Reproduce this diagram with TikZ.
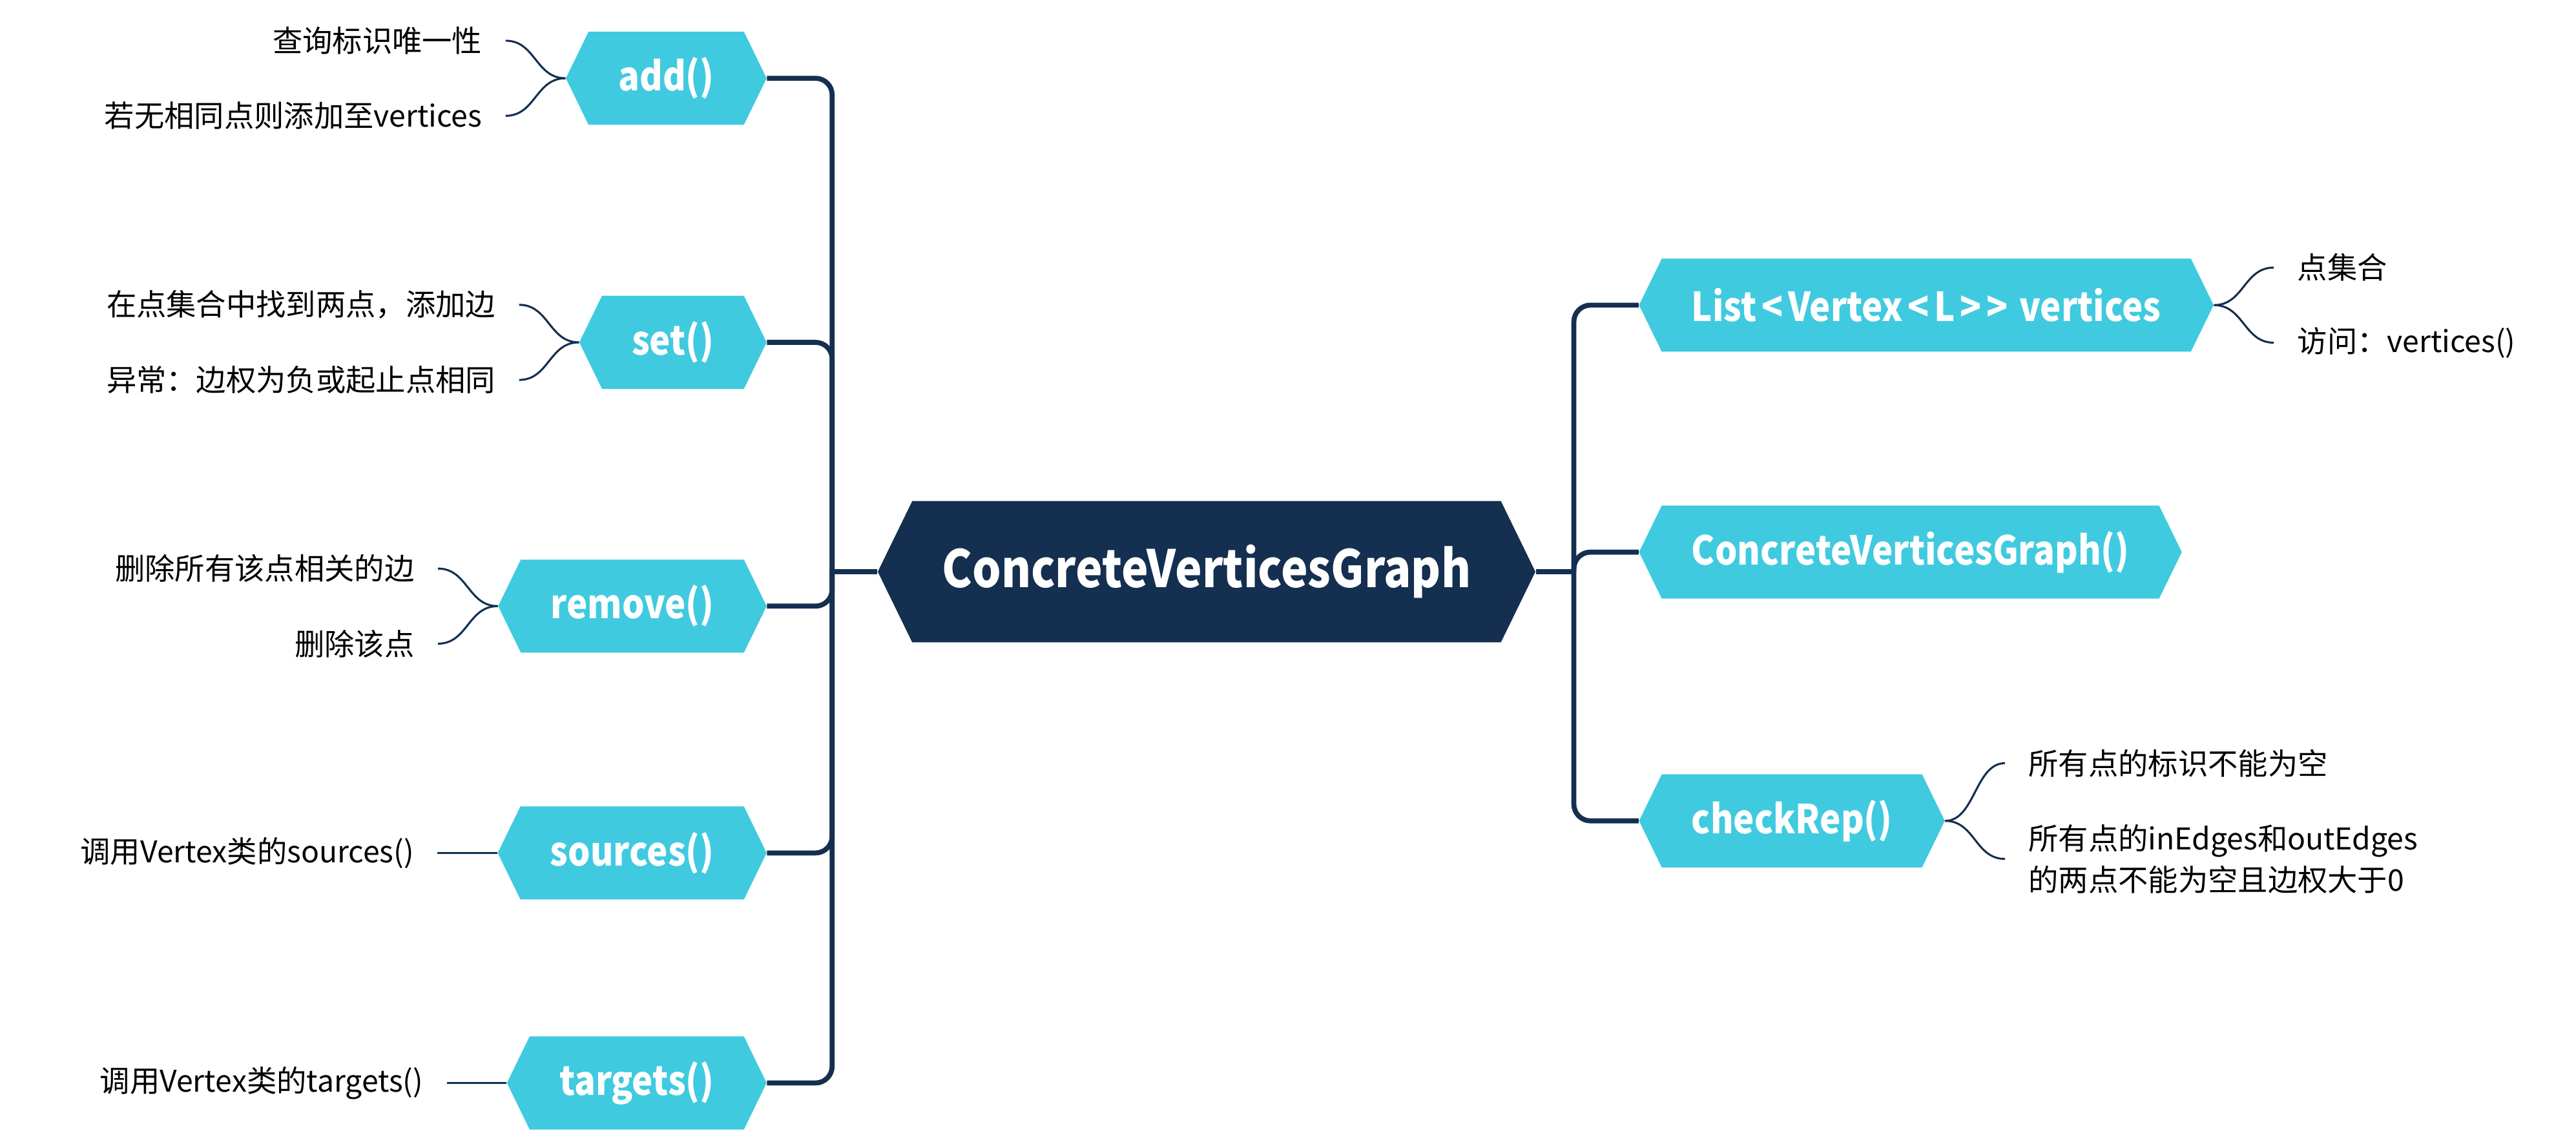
\documentclass[tikz,border=0pt]{standalone}
\usepackage{fontspec}
\setmainfont{Noto Sans CJK SC}
\newfontfamily\labelfont[FakeStretch=0.88]{Noto Sans CJK SC}
\usetikzlibrary{positioning, shapes.symbols}
\definecolor{deepnavy}{HTML}{142F50}
\definecolor{skycyan}{HTML}{40CAE0}
\tikzstyle{rootnode} = [signal, signal to=east and west, signal pointer angle=128, fill=deepnavy, text=white, font=\labelfont\bfseries\fontsize{31}{31}\selectfont, minimum height=85pt, inner xsep=18pt]
\tikzstyle{method} = [signal, signal to=east and west, signal pointer angle=128, fill=skycyan, text=white, font=\labelfont\bfseries\fontsize{24}{24}\selectfont, minimum height=56pt, inner xsep=18pt]
\tikzstyle{leaf} = [font=\fontsize{18}{25}\selectfont, inner xsep=14pt, inner ysep=2pt]
\tikzstyle{trunk} = [draw=deepnavy, line width=3pt, rounded corners=10pt]
\tikzstyle{twig} = [draw=deepnavy, line width=1.2pt]

\begin{document}
\begin{tikzpicture}[x=1pt, y=1pt, node distance=36pt]
\useasboundingbox (0,0) rectangle (1550,688);
\node (root) [rootnode] at (726,344) {ConcreteVerticesGraph};
\node (add) [method, anchor=east] at (461.5,640.9) {add()};
\node (set) [method, anchor=east] at (461.5,482) {set()};
\node (remove) [method, anchor=east] at (461.5,323.3) {remove()};
\node (sources) [method, anchor=east] at (461.5,174.8) {sources()};
\node (targets) [method, anchor=east] at (461.5,36.4) {targets()};
\node (vertices) [method, anchor=west] at (986,504.4) {List\kern3pt<\kern3pt Vertex\kern3pt<\kern3pt L\kern3pt>\kern3pt>\kern2pt{} vertices};
\node (ctor) [method, anchor=west] at (986,355.8) {ConcreteVerticesGraph()};
\node (rep) [method, anchor=west] at (986,194.1) {checkRep()};

\node (add1) [leaf, left=of add.west, yshift=22.6pt] {查询标识唯一性};
\node (add2) [leaf, left=of add.west, yshift=-22.6pt] {若无相同点则添加至vertices};
\node (set1) [leaf, left=of set.west, yshift=22.6pt] {在点集合中找到两点，添加边};
\node (set2) [leaf, left=of set.west, yshift=-22.6pt] {异常：边权为负或起止点相同};
\node (remove1) [leaf, left=of remove.west, yshift=22.6pt] {删除所有该点相关的边};
\node (remove2) [leaf, left=of remove.west, yshift=-22.6pt] {删除该点};
\node (sources1) [leaf, left=of sources.west] {调用Vertex类的sources()};
\node (targets1) [leaf, left=of targets.west] {调用Vertex类的targets()};
\node (vertices1) [leaf, right=of vertices.east, yshift=22.6pt] {点集合};
\node (vertices2) [leaf, right=of vertices.east, yshift=-22.6pt] {访问：vertices()};
\node (rep1) [leaf, right=of rep.east, yshift=34.7pt] {所有点的标识不能为空};
\node (rep2) [leaf, right=of rep.east, yshift=-22.9pt, align=left] {所有点的inEdges和outEdges\\的两点不能为空且边权大于0};

\coordinate (lhub) at (500.7,344);
\coordinate (rhub) at (947,344);
\draw [trunk] (root.west) -- (lhub);
\draw [trunk] (root.east) -- (rhub);
\draw [trunk] (lhub) |- (add.east);
\draw [trunk] (lhub) |- (set.east);
\draw [trunk] (lhub) |- (remove.east);
\draw [trunk] (lhub) |- (sources.east);
\draw [trunk] (lhub) |- (targets.east);
\draw [trunk] (rhub) |- (vertices.west);
\draw [trunk] (rhub) |- (ctor.west);
\draw [trunk] (rhub) |- (rep.west);

\draw [twig] (add.west) .. controls +(-18,0) and +(18,0) .. (add1.east);
\draw [twig] (add.west) .. controls +(-18,0) and +(18,0) .. (add2.east);
\draw [twig] (set.west) .. controls +(-18,0) and +(18,0) .. (set1.east);
\draw [twig] (set.west) .. controls +(-18,0) and +(18,0) .. (set2.east);
\draw [twig] (remove.west) .. controls +(-18,0) and +(18,0) .. (remove1.east);
\draw [twig] (remove.west) .. controls +(-18,0) and +(18,0) .. (remove2.east);
\draw [twig] (sources.west) -- (sources1.east);
\draw [twig] (targets.west) -- (targets1.east);
\draw [twig] (vertices.east) .. controls +(18,0) and +(-18,0) .. (vertices1.west);
\draw [twig] (vertices.east) .. controls +(18,0) and +(-18,0) .. (vertices2.west);
\draw [twig] (rep.east) .. controls +(18,0) and +(-18,0) .. (rep1.west);
\draw [twig] (rep.east) .. controls +(18,0) and +(-18,0) .. (rep2.west);
\end{tikzpicture}
\end{document}
